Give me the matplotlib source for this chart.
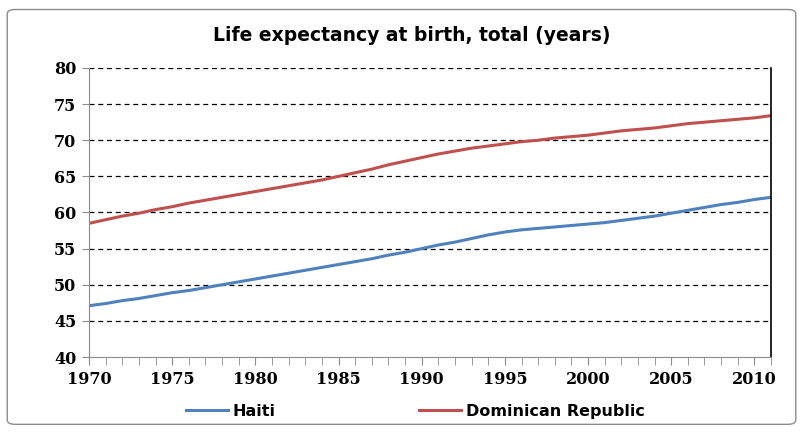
import matplotlib.pyplot as plt
from matplotlib.patches import FancyBboxPatch
from matplotlib.ticker import MultipleLocator

years = list(range(1970, 2012))
haiti = [47.1, 47.4, 47.8, 48.1, 48.5, 48.9, 49.2, 49.6, 50.0, 50.4,
         50.8, 51.2, 51.6, 52.0, 52.4, 52.8, 53.2, 53.6, 54.1, 54.5,
         55.0, 55.5, 55.9, 56.4, 56.9, 57.3, 57.6, 57.8, 58.0, 58.2,
         58.4, 58.6, 58.9, 59.2, 59.5, 59.9, 60.3, 60.7, 61.1, 61.4,
         61.8, 62.1]
dominican = [58.5, 59.0, 59.5, 59.9, 60.4, 60.8, 61.3, 61.7, 62.1, 62.5,
             62.9, 63.3, 63.7, 64.1, 64.5, 65.0, 65.5, 66.0, 66.6, 67.1,
             67.6, 68.1, 68.5, 68.9, 69.2, 69.5, 69.8, 70.0, 70.3, 70.5,
             70.7, 71.0, 71.3, 71.5, 71.7, 72.0, 72.3, 72.5, 72.7, 72.9,
             73.1, 73.4]

fig = plt.figure(figsize=(8.03, 4.33), dpi=100)
# outer chart border
fig.patches.append(FancyBboxPatch((0.009, 0.02), 0.982, 0.958,
                                  boxstyle="round,pad=0,rounding_size=0.01",
                                  transform=fig.transFigure, fill=False,
                                  edgecolor='#8c8c8c', linewidth=1))

ax = fig.add_axes([0.1108, 0.1755, 0.8494, 0.6675])
ax.plot(years, haiti, color='#4F81BD', linewidth=2.2, label='Haiti')
ax.plot(years, dominican, color='#C0504D', linewidth=2.2, label='Dominican Republic')

ax.set_xlim(1970, 2011)
ax.set_ylim(40, 80)
ax.xaxis.set_major_locator(MultipleLocator(5))
ax.xaxis.set_minor_locator(MultipleLocator(1))
ax.yaxis.set_major_locator(MultipleLocator(5))

for y in range(45, 81, 5):
    ax.axhline(y, color='black', linestyle=(0, (4, 3)), linewidth=0.9, zorder=0)

ax.spines['top'].set_visible(False)
ax.spines['left'].set_color('#8c8c8c')
ax.spines['bottom'].set_color('#8c8c8c')
ax.spines['right'].set_color('black')
ax.spines['right'].set_linewidth(1.2)

tick_font = {'family': 'DejaVu Serif', 'weight': 'bold', 'size': 11.5}
ax.tick_params(axis='both', which='both', direction='out', color='#8c8c8c')
ax.tick_params(axis='x', which='major', length=6, pad=4)
ax.tick_params(axis='x', which='minor', length=6)
ax.tick_params(axis='y', length=5, pad=4)
ax.set_xticks(range(1970, 2011, 5))
ax.set_xticklabels([str(y) for y in range(1970, 2011, 5)], fontdict=tick_font)
ax.set_yticks(range(40, 81, 5))
ax.set_yticklabels([str(y) for y in range(40, 81, 5)], fontdict=tick_font)

fig.text(0.513, 0.918, 'Life expectancy at birth, total (years)', ha='center', va='center',
         fontsize=13.5, fontweight='bold', family='DejaVu Sans')

fig.legend(loc='center', bbox_to_anchor=(0.5174, 0.05), ncol=2, frameon=False,
           prop={'family': 'DejaVu Sans', 'weight': 'bold', 'size': 11.5},
           handlelength=2.6, handletextpad=0.3, columnspacing=9.0)

fig.savefig('out.png', dpi=100)
